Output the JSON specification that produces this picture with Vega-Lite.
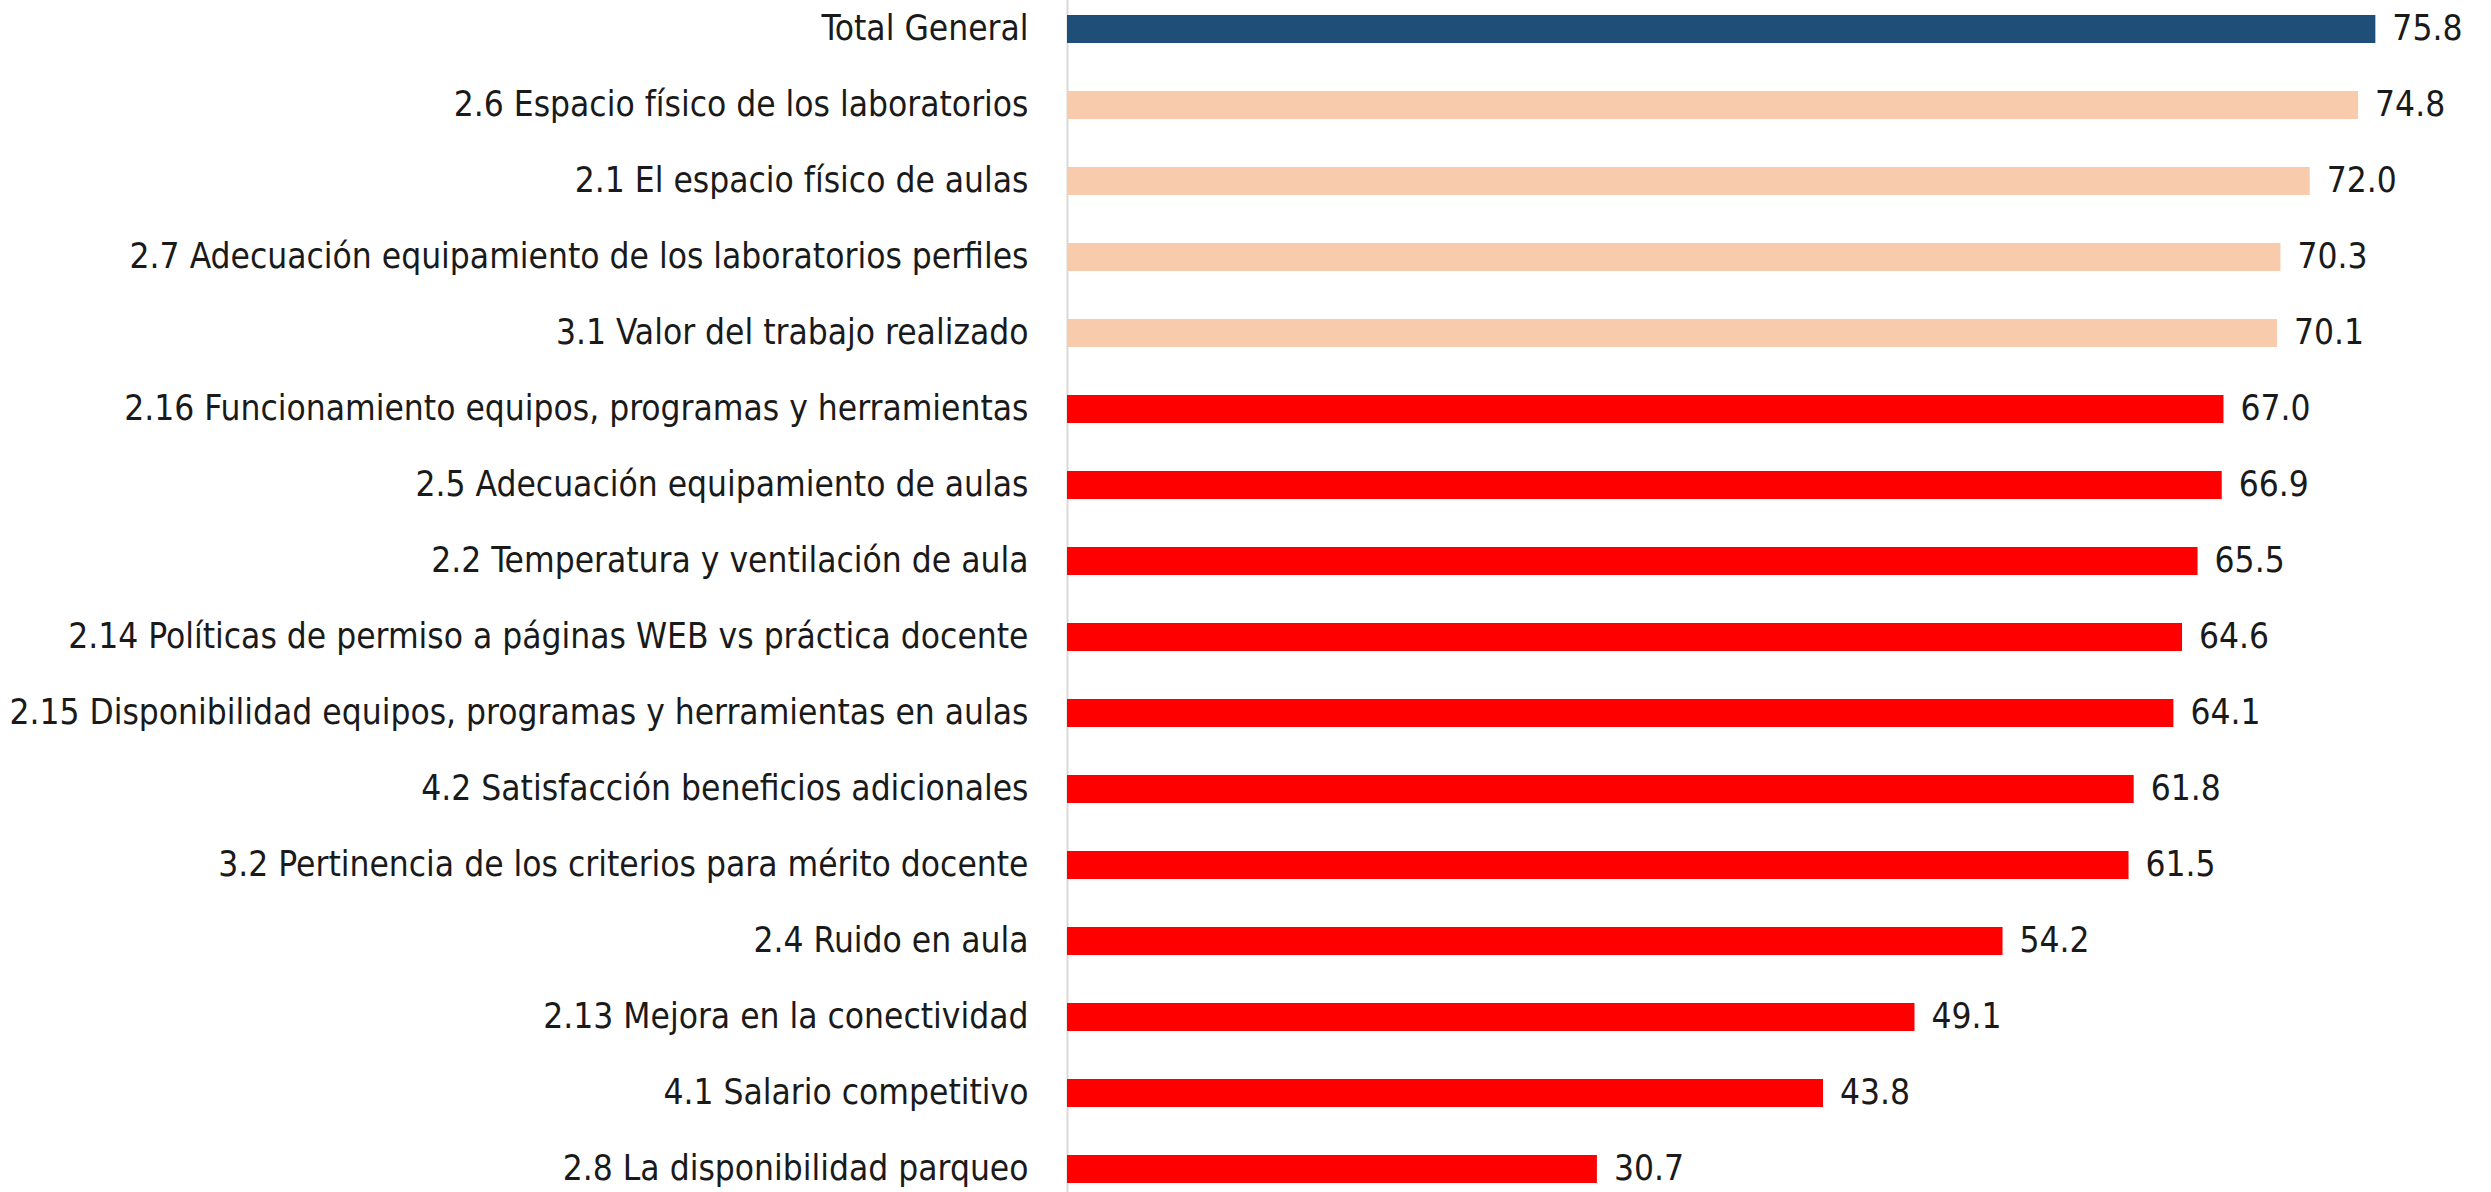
{
  "$schema": "https://vega.github.io/schema/vega-lite/v6.json",
  "autosize": {"type": "none"},
  "padding": {"left": 1067, "top": -9, "right": 0, "bottom": 0},
  "width": 1424,
  "height": 1216,
  "background": "white",
  "config": {"view": {"stroke": null}},
  "data": {
    "values": [
      {"item": "Total General", "value": 75.8, "grp": "total"},
      {"item": "2.6 Espacio físico de los laboratorios", "value": 74.8, "grp": "alto"},
      {"item": "2.1 El espacio físico de aulas ", "value": 72.0, "grp": "alto"},
      {"item": "2.7 Adecuación equipamiento de los laboratorios perfiles", "value": 70.3, "grp": "alto"},
      {"item": "3.1 Valor del trabajo realizado", "value": 70.1, "grp": "alto"},
      {"item": "2.16 Funcionamiento equipos, programas y herramientas", "value": 67.0, "grp": "bajo"},
      {"item": "2.5 Adecuación equipamiento de aulas", "value": 66.9, "grp": "bajo"},
      {"item": "2.2 Temperatura y ventilación de aula", "value": 65.5, "grp": "bajo"},
      {"item": "2.14 Políticas de permiso a páginas WEB vs práctica docente", "value": 64.6, "grp": "bajo"},
      {"item": "2.15 Disponibilidad equipos, programas y herramientas en aulas", "value": 64.1, "grp": "bajo"},
      {"item": "4.2  Satisfacción beneficios adicionales", "value": 61.8, "grp": "bajo"},
      {"item": "3.2 Pertinencia de los criterios para mérito docente", "value": 61.5, "grp": "bajo"},
      {"item": "2.4 Ruido en aula", "value": 54.2, "grp": "bajo"},
      {"item": "2.13 Mejora en la conectividad", "value": 49.1, "grp": "bajo"},
      {"item": "4.1 Salario competitivo", "value": 43.8, "grp": "bajo"},
      {"item": "2.8 La disponibilidad parqueo", "value": 30.7, "grp": "bajo"}
    ]
  },
  "encoding": {
    "y": {
      "field": "item", "type": "nominal", "sort": null,
      "scale": {"paddingInner": 0, "paddingOuter": 0},
      "axis": {
        "title": null, "ticks": false, "domain": true, "domainColor": "#d9d9d9", "domainWidth": 2,
        "labelFont": "DejaVu Sans Condensed", "labelFontSize": 35, "labelColor": "#1a1a1a",
        "labelPadding": 39, "labelLimit": 1100
      }
    },
    "x": {
      "field": "value", "type": "quantitative",
      "scale": {"domain": [0, 82.5], "nice": false, "zero": true},
      "axis": null
    }
  },
  "layer": [
    {
      "mark": {"type": "bar", "size": 28},
      "encoding": {
        "color": {
          "field": "grp", "type": "nominal", "legend": null,
          "scale": {"domain": ["total", "alto", "bajo"], "range": ["#1F4E79", "#F8CBAD", "#FF0000"]}
        }
      }
    },
    {
      "mark": {"type": "text", "align": "left", "baseline": "middle", "dx": 17, "font": "DejaVu Sans Condensed", "fontSize": 35, "color": "#1a1a1a"},
      "encoding": {"text": {"field": "value", "type": "quantitative", "format": ".1f"}}
    }
  ]
}
